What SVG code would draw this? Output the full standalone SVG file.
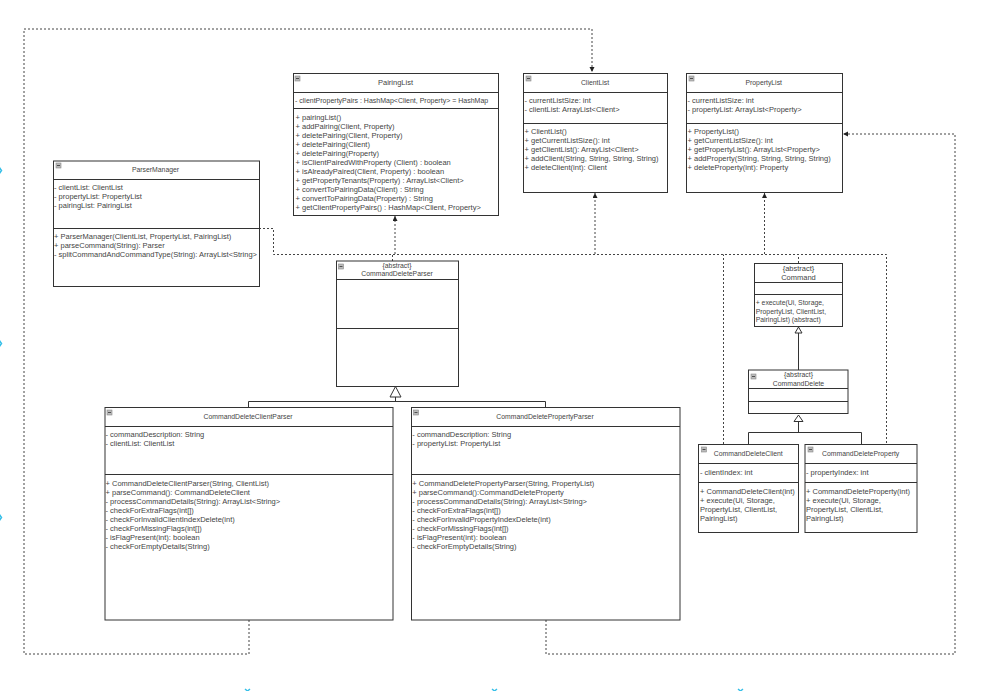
<svg xmlns="http://www.w3.org/2000/svg" width="989" height="691" viewBox="0 0 989 691">
<style>
text{font-family:"Liberation Sans",Arial,sans-serif;font-size:7.5px;fill:#444}
.c{text-anchor:middle}
.n{font-size:6.85px}
.p{font-size:7px}
.b{fill:#fff;stroke:#333;stroke-width:1}
.l{stroke:#333;stroke-width:1;fill:none}
.d{stroke:#444;stroke-width:1;fill:none;stroke-dasharray:2 2}
.s{stroke:#333;stroke-width:1;fill:none}
.t{fill:#fff;stroke:#333;stroke-width:1}
.i{fill:#bbb;stroke:#888;stroke-width:.6}
.k{stroke:#35bfe8;stroke-width:1.5;fill:none}
</style>
<defs>
<marker id="a" markerWidth="6" markerHeight="6" refX="5" refY="2.500" orient="auto" markerUnits="userSpaceOnUse"><path d="M0 0L5 2.500L0 5z" fill="#222"/></marker>
<g id="mi"><rect class="i" x="0" y="0" width="5" height="5"/><path d="M1 2.500H4" stroke="#333" stroke-width=".8"/></g>
</defs>
<rect width="989" height="691" fill="#fff"/>
<g id="page-marks">
<path class="k" d="M-1 167L1.500 170.500L-1 174M-1 340L1.500 343.500L-1 347M-1 514L1.500 517.500L-1 521M245 689L247.500 691L250 689M492 689L494.500 691L497 689M738 689L740.500 691L743 689"/>
</g>
<g id="connectors">
<path class="d" d="M249 620V654H24V29H592V72" marker-end="url(#a)"/>
<path class="d" d="M546 620V654H955V134H843" marker-end="url(#a)"/>
<path class="d" d="M259 228.500H273.500V254.500H886.500V444"/>
<path class="d" d="M395 254V216" marker-end="url(#a)"/>
<path class="d" d="M595 254V193" marker-end="url(#a)"/>
<path class="d" d="M764.500 254V193" marker-end="url(#a)"/>
<path class="d" d="M392.500 261V254.500"/>
<path class="d" d="M798.500 263V254.500"/>
<path class="d" d="M723.500 444V254.500"/>
<path class="s" d="M798.500 333V370"/>
<path class="t" d="M798.500 327L795 333H802z"/>
<path class="s" d="M798.500 421.500V432.500M748.500 444V432.500H861.500V444"/>
<path class="t" d="M798.500 415L794 421.500H803z"/>
<path class="s" d="M395.500 397V401.500M248.500 407V401.500H545.500V407"/>
<path class="t" d="M395.500 386.500L390 397H401z"/>
</g>
<g id="PairingList">
<rect class="b" x="293.500" y="73.500" width="205" height="142"/>
<path class="l" d="M293.500 92.500H498.500M293.500 108.500H498.500"/>
<use href="#mi" x="295" y="76"/>
<text class="c" x="395.500" y="84.500">PairingList</text>
<text class="p" x="295" y="103">- clientPropertyPairs : HashMap&lt;Client, Property&gt; = HashMap</text>
<text x="295.500" y="120">+ pairingList()</text>
<text x="295.500" y="129">+ addPairing(Client, Property)</text>
<text x="295.500" y="138">+ deletePairing(Client, Property)</text>
<text x="295.500" y="147">+ deletePairing(Client)</text>
<text x="295.500" y="156">+ deletePairing(Property)</text>
<text x="295.500" y="165">+ isClientPairedWithProperty (Client) : boolean</text>
<text x="295.500" y="174">+ isAlreadyPaired(Client, Property) : boolean</text>
<text x="295.500" y="183">+ getPropertyTenants(Property) : ArrayList&lt;Client&gt;</text>
<text x="295.500" y="192">+ convertToPairingData(Client) : String</text>
<text x="295.500" y="201">+ convertToPairingData(Property) : String</text>
<text x="295.500" y="210">+ getClientPropertyPairs() : HashMap&lt;Client, Property&gt;</text>
</g>
<g id="ClientList">
<rect class="b" x="523.500" y="73.500" width="144" height="119"/>
<path class="l" d="M523.500 92.500H667.500M523.500 123.500H667.500"/>
<use href="#mi" x="526" y="76"/>
<text class="c n" x="595" y="84.500">ClientList</text>
<text x="524.500" y="103">- currentListSize: int</text>
<text x="524.500" y="112">- clientList: ArrayList&lt;Client&gt;</text>
<text x="524.500" y="134">+ ClientList()</text>
<text x="524.500" y="143">+ getCurrentListSize(): int</text>
<text x="524.500" y="152">+ getClientList(): ArrayList&lt;Client&gt;</text>
<text x="524.500" y="161">+ addClient(String, String, String, String)</text>
<text x="524.500" y="170">+ deleteClient(int): Client</text>
</g>
<g id="PropertyList">
<rect class="b" x="686.500" y="73.500" width="156" height="119"/>
<path class="l" d="M686.500 92.500H842.500M686.500 123.500H842.500"/>
<use href="#mi" x="689" y="76"/>
<text class="c n" x="763.700" y="84.500">PropertyList</text>
<text x="687.500" y="103">- currentListSize: int</text>
<text x="687.500" y="112">- propertyList: ArrayList&lt;Property&gt;</text>
<text x="687.500" y="134">+ PropertyList()</text>
<text x="687.500" y="143">+ getCurrentListSize(): int</text>
<text x="687.500" y="152">+ getPropertyList(): ArrayList&lt;Property&gt;</text>
<text x="687.500" y="161">+ addProperty(String, String, String, String)</text>
<text x="687.500" y="170">+ deleteProperty(int): Property</text>
</g>
<g id="ParserManager">
<rect class="b" x="53.500" y="161" width="206" height="125.500"/>
<path class="l" d="M53.500 179.500H259.500M53.500 228.500H259.500"/>
<use href="#mi" x="56" y="163"/>
<text class="c n" x="155.500" y="172">ParserManager</text>
<text x="54" y="190">- clientList: ClientList</text>
<text x="54" y="199">- propertyList: PropertyList</text>
<text x="54" y="208">- pairingList: PairingList</text>
<text x="54" y="239">+ ParserManager(ClientList, PropertyList, PairingList)</text>
<text x="54" y="248">+ parseCommand(String): Parser</text>
<text x="54" y="257">- splitCommandAndCommandType(String): ArrayList&lt;String&gt;</text>
</g>
<g id="CommandDeleteParser">
<rect class="b" x="336.500" y="261" width="122" height="125.500"/>
<path class="l" d="M336.500 279.500H458.500M336.500 328.500H458.500"/>
<use href="#mi" x="338.500" y="264"/>
<text class="c n" x="397" y="268">{abstract}</text>
<text class="c n" x="397" y="276">CommandDeleteParser</text>
</g>
<g id="CommandDeleteClientParser">
<rect class="b" x="105" y="407.500" width="288" height="212.500"/>
<path class="l" d="M105 426.500H393M105 474.500H393"/>
<use href="#mi" x="107" y="410"/>
<text class="c n" x="248" y="419">CommandDeleteClientParser</text>
<text x="105.500" y="437">- commandDescription: String</text>
<text x="105.500" y="446">- clientList: ClientList</text>
<text x="105.500" y="486">+ CommandDeleteClientParser(String, ClientList)</text>
<text x="105.500" y="495">+ parseCommand(): CommandDeleteClient</text>
<text x="105.500" y="504">- processCommandDetails(String): ArrayList&lt;String&gt;</text>
<text x="105.500" y="513">- checkForExtraFlags(int[])</text>
<text x="105.500" y="522">- checkForInvalidClientIndexDelete(int)</text>
<text x="105.500" y="531">- checkForMissingFlags(int[])</text>
<text x="105.500" y="540">- isFlagPresent(int): boolean</text>
<text x="105.500" y="549">- checkForEmptyDetails(String)</text>
</g>
<g id="CommandDeletePropertyParser">
<rect class="b" x="411.500" y="407.500" width="268.500" height="212.500"/>
<path class="l" d="M411.500 426.500H680M411.500 474.500H680"/>
<use href="#mi" x="413.500" y="410"/>
<text class="c n" x="545" y="419">CommandDeletePropertyParser</text>
<text x="412.300" y="437">- commandDescription: String</text>
<text x="412.300" y="446">- propertyList: PropertyList</text>
<text x="412.300" y="486">+ CommandDeletePropertyParser(String, PropertyList)</text>
<text x="412.300" y="495">+ parseCommand():CommandDeleteProperty</text>
<text x="412.300" y="504">- processCommandDetails(String): ArrayList&lt;String&gt;</text>
<text x="412.300" y="513">- checkForExtraFlags(int[])</text>
<text x="412.300" y="522">- checkForInvalidPropertyIndexDelete(int)</text>
<text x="412.300" y="531">- checkForMissingFlags(int[])</text>
<text x="412.300" y="540">- isFlagPresent(int): boolean</text>
<text x="412.300" y="549">- checkForEmptyDetails(String)</text>
</g>
<g id="Command">
<rect class="b" x="754.500" y="263.500" width="88" height="63"/>
<path class="l" d="M754.500 282.500H842.500M754.500 294.500H842.500"/>
<text class="c" x="798.500" y="271">{abstract}</text>
<text class="c" x="798.500" y="280">Command</text>
<text class="n" x="755.700" y="305">+ execute(Ui, Storage,</text>
<text class="n" x="755.700" y="313.500">PropertyList, ClientList,</text>
<text class="n" x="755.700" y="321.500">PairingList) (abstract)</text>
</g>
<g id="CommandDelete">
<rect class="b" x="748.500" y="370" width="99.500" height="43.500"/>
<path class="l" d="M748.500 388.500H848M748.500 401.500H848"/>
<use href="#mi" x="751" y="374"/>
<text class="c n" x="798.500" y="377">{abstract}</text>
<text class="c n" x="798.500" y="386">CommandDelete</text>
</g>
<g id="CommandDeleteClient">
<rect class="b" x="698.500" y="444.500" width="100" height="88"/>
<path class="l" d="M698.500 463.500H798.500M698.500 482.500H798.500"/>
<use href="#mi" x="701.500" y="447"/>
<text class="c n" x="748.300" y="456">CommandDeleteClient</text>
<text x="700" y="475">- clientIndex: int</text>
<text x="700" y="494">+ CommandDeleteClient(int)</text>
<text x="700" y="503">+ execute(Ui, Storage,</text>
<text x="700" y="512">PropertyList, ClientList,</text>
<text x="700" y="521">PairingList)</text>
</g>
<g id="CommandDeleteProperty">
<rect class="b" x="805" y="444.500" width="112" height="88"/>
<path class="l" d="M805 463.500H917M805 482.500H917"/>
<use href="#mi" x="808" y="447"/>
<text class="c n" x="860.700" y="456">CommandDeleteProperty</text>
<text x="806" y="475">- propertyIndex: int</text>
<text x="806" y="494">+ CommandDeleteProperty(int)</text>
<text x="806" y="503">+ execute(Ui, Storage,</text>
<text x="806" y="512">PropertyList, ClientList,</text>
<text x="806" y="521">PairingList)</text>
</g>
</svg>
